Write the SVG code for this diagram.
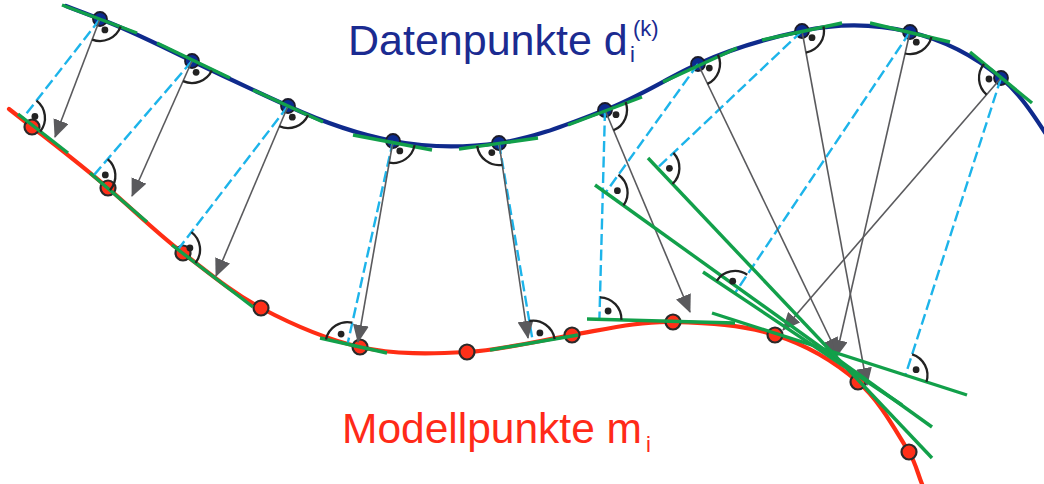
<svg xmlns="http://www.w3.org/2000/svg" width="1044" height="484" viewBox="0 0 1044 484">
<defs>
<style>
.bg{fill:#ffffff}
.blue{fill:none;stroke:#0f2a8c;stroke-width:4.2;stroke-linecap:round}
.red{fill:none;stroke:#ff2d14;stroke-width:4.2;stroke-linecap:round}
.tan{stroke:#12a04a;stroke-width:3.4;fill:none}
.arr{stroke:#5a5a5d;stroke-width:1.6;fill:none}
.dash{stroke:#1db4ea;stroke-width:2.4;stroke-dasharray:11 4.5;fill:none}
.ra{fill:none;stroke:#222222;stroke-width:2.3}
.dot{fill:#222222}
.dn{fill:#0c2b8f;stroke:#1b1b2a;stroke-width:1.8}
.mn{fill:#ff3019;stroke:#2a2a2a;stroke-width:2.2}
.tb{font-family:"Liberation Sans",Arial,sans-serif;fill:#1b2b91}
.tr{font-family:"Liberation Sans",Arial,sans-serif;fill:#ff2a18}
</style>
<marker id="ah" viewBox="0 0 18 16" refX="17" refY="8" markerWidth="18" markerHeight="16" markerUnits="userSpaceOnUse" orient="auto">
<path d="M0,0 L18,8 L0,16 z" fill="#5a5a5d"/>
</marker>
</defs>
<rect class="bg" x="0" y="0" width="1044" height="484"/>

<g id="curves">
<path id="data-curve" class="blue" d="M66,6 C77.3,10.2 88.7,14.8 100,19 C131.6,30.8 161.6,46.4 192,61 C223.8,76.3 255.9,91.3 288,106 C321.5,121.4 356.8,134.1 393,141 C427.7,147.6 464.1,147.9 499,143 C535.6,137.9 570.4,123.1 605,110 C637.4,97.8 666.5,78.5 698,64 C731.1,48.8 766.4,38.6 802,31 C837.2,23.5 875,23.7 910,32 C943.1,39.9 974.8,56.4 1001,78 C1019.5,93.2 1032.9,114 1046,134"/>
<path id="model-curve" class="red" d="M9,109 C16.7,115 24.3,121 32,127 C57.6,147 83.4,166.8 108,188 C133.1,209.6 156.7,232.9 183,253 C208.2,272.3 232.9,293.1 261,308 C292.3,324.6 325.4,339.2 360,347 C394.8,354.8 431.4,354 467,352 C502.4,350 537,341 572,335 C605.4,329.3 639.1,321.1 673,322 C707.3,322.9 742.3,324.5 775,335 C805.3,344.7 834.1,361.1 858,382 C879.8,401 893.7,427.5 909,452 C915.1,461.7 917.7,473.4 922,484 L924,490"/>
</g>

<g id="data-points">
<g id="d1"><circle class="dn" cx="100" cy="19" r="7"/></g>
<g id="d2"><circle class="dn" cx="192" cy="61" r="7"/></g>
<g id="d3"><circle class="dn" cx="288" cy="106" r="7"/></g>
<g id="d4"><circle class="dn" cx="393" cy="141" r="7"/></g>
<g id="d5"><circle class="dn" cx="499" cy="143" r="7"/></g>
<g id="d6"><circle class="dn" cx="605" cy="110" r="7"/></g>
<g id="d7"><circle class="dn" cx="698" cy="64" r="7"/></g>
<g id="d8"><circle class="dn" cx="802" cy="31" r="7"/></g>
<g id="d9"><circle class="dn" cx="910" cy="32" r="7"/></g>
<g id="d10"><circle class="dn" cx="1001" cy="78" r="7"/></g>
</g>

<g id="model-points">
<g id="m1"><circle class="mn" cx="32" cy="127" r="7.5"/></g>
<g id="m2"><circle class="mn" cx="108" cy="188" r="7.5"/></g>
<g id="m3"><circle class="mn" cx="183" cy="253" r="7.5"/></g>
<g id="m4"><circle class="mn" cx="261" cy="308" r="7.5"/></g>
<g id="m5"><circle class="mn" cx="360" cy="347" r="7.5"/></g>
<g id="m6"><circle class="mn" cx="467" cy="352" r="7.5"/></g>
<g id="m7"><circle class="mn" cx="572" cy="335" r="7.5"/></g>
<g id="m8"><circle class="mn" cx="673" cy="322" r="7.5"/></g>
<g id="m9"><circle class="mn" cx="775" cy="335" r="7.5"/></g>
<g id="m10"><circle class="mn" cx="858" cy="382" r="7.5"/></g>
<g id="m11"><circle class="mn" cx="909" cy="452" r="7.5"/></g>
</g>

<g id="connectors">
<g id="projections">
<line class="dash" x1="100" y1="19" x2="23" y2="118"/>
<line class="dash" x1="192" y1="61" x2="93.3" y2="175.8"/>
<line class="dash" x1="288" y1="106" x2="178" y2="249.6"/>
<line class="dash" x1="393" y1="141" x2="347.5" y2="344.2"/>
<line class="dash" x1="499" y1="143" x2="533" y2="342.7"/>
<line class="dash" x1="605" y1="110" x2="599.4" y2="319.3"/>
<line class="dash" x1="698" y1="64" x2="605.6" y2="192.6"/>
<line class="dash" x1="802" y1="31" x2="657.4" y2="168"/>
<line class="dash" x1="910" y1="32" x2="735" y2="293"/>
<line class="dash" x1="1001" y1="78" x2="905.4" y2="375.2"/>
</g>
<g id="normals">
<line class="arr" marker-end="url(#ah)" x1="100" y1="19" x2="55" y2="137"/>
<line class="arr" marker-end="url(#ah)" x1="192" y1="61" x2="132" y2="196"/>
<line class="arr" marker-end="url(#ah)" x1="288" y1="106" x2="216" y2="276"/>
<line class="arr" marker-end="url(#ah)" x1="393" y1="141" x2="358" y2="342"/>
<line class="arr" marker-end="url(#ah)" x1="499" y1="143" x2="528" y2="338"/>
<line class="arr" marker-end="url(#ah)" x1="605" y1="110" x2="690" y2="312"/>
<line class="arr" marker-end="url(#ah)" x1="698" y1="64" x2="838" y2="355"/>
<line class="arr" marker-end="url(#ah)" x1="802" y1="31" x2="867" y2="385"/>
<line class="arr" marker-end="url(#ah)" x1="910" y1="32" x2="836" y2="357"/>
<line class="arr" marker-end="url(#ah)" x1="1001" y1="78" x2="783" y2="330"/>
</g>
</g>

<g id="tangents">
<line class="tan" x1="62" y1="5" x2="137" y2="33"/>
<line class="tan" x1="157" y1="43" x2="230" y2="78"/>
<line class="tan" x1="253" y1="90" x2="323" y2="122"/>
<line class="tan" x1="353" y1="135" x2="432" y2="150"/>
<line class="tan" x1="459" y1="149" x2="538" y2="138"/>
<line class="tan" x1="568" y1="125" x2="642" y2="97"/>
<line class="tan" x1="663" y1="82" x2="737" y2="48"/>
<line class="tan" x1="762" y1="40" x2="842" y2="23"/>
<line class="tan" x1="870" y1="23" x2="950" y2="42"/>
<line class="tan" x1="970" y1="52" x2="1032" y2="103"/>
<line class="tan" x1="18" y1="114" x2="68" y2="153"/>
<line class="tan" x1="90" y1="173" x2="147" y2="222"/>
<line class="tan" x1="172" y1="245" x2="253" y2="307"/>
<line class="tan" x1="320" y1="338" x2="387" y2="353"/>
<line class="tan" x1="490" y1="350" x2="578" y2="335"/>
<line class="tan" x1="587" y1="319" x2="735" y2="323"/>
<line class="tan" x1="712" y1="313" x2="967" y2="395"/>
<line class="tan" x1="595" y1="185" x2="932" y2="427"/>
<line class="tan" x1="648" y1="158" x2="932" y2="458"/>
<line class="tan" x1="703" y1="272" x2="902" y2="405"/>
</g>

<g id="right-angles">
<path class="ra" d="M120.6,26.7 A22,22 0 0 1 92.2,39.6"/><circle class="dot" cx="104.9" cy="29.9" r="3.4"/>
<path class="ra" d="M211.8,70.5 A22,22 0 0 1 183.1,81.1"/><circle class="dot" cx="196.1" cy="72.3" r="3.4"/>
<path class="ra" d="M308,115.2 A22,22 0 0 1 279.4,126.3"/><circle class="dot" cx="292.3" cy="117.2" r="3.4"/>
<path class="ra" d="M414.6,145.1 A22,22 0 0 1 389.2,162.7"/><circle class="dot" cx="399.8" cy="150.9" r="3.4"/>
<path class="ra" d="M502.3,164.8 A22,22 0 0 1 477.2,146"/><circle class="dot" cx="491.8" cy="152.6" r="3.4"/>
<path class="ra" d="M625.6,102.2 A22,22 0 0 1 613.5,130.3"/><circle class="dot" cx="616" cy="114.7" r="3.4"/>
<path class="ra" d="M718,54.8 A22,22 0 0 1 707.4,83.9"/><circle class="dot" cx="709.3" cy="68.1" r="3.4"/>
<path class="ra" d="M823.5,26.4 A22,22 0 0 1 806,52.6"/><circle class="dot" cx="812" cy="37.7" r="3.4"/>
<path class="ra" d="M931.4,37.1 A22,22 0 0 1 905.1,53.5"/><circle class="dot" cx="916.3" cy="42.2" r="3.4"/>
<path class="ra" d="M986.6,94.6 A22,22 0 0 1 984,64"/><circle class="dot" cx="989" cy="79" r="3.4"/>
<path class="ra" d="M36.5,100.6 A22,22 0 0 1 40.3,131.5"/><circle class="dot" cx="34.9" cy="116.5" r="3.4"/>
<path class="ra" d="M107.7,159.1 A22,22 0 0 1 110,190.2"/><circle class="dot" cx="105.3" cy="174.9" r="3.4"/>
<path class="ra" d="M191.4,232.1 A22,22 0 0 1 195.5,263"/><circle class="dot" cx="189.9" cy="248" r="3.4"/>
<path class="ra" d="M326,339.4 A22,22 0 0 1 352.3,322.7"/><circle class="dot" cx="341.1" cy="334.1" r="3.4"/>
<path class="ra" d="M529.3,321 A22,22 0 0 1 554.7,339"/><circle class="dot" cx="539.9" cy="332.9" r="3.4"/>
<path class="ra" d="M600,297.3 A22,22 0 0 1 621.4,319.9"/><circle class="dot" cx="608.1" cy="311" r="3.4"/>
<path class="ra" d="M618.4,174.7 A22,22 0 0 1 623.5,205.4"/><circle class="dot" cx="617.4" cy="190.7" r="3.4"/>
<path class="ra" d="M673.4,152.9 A22,22 0 0 1 672.5,184"/><circle class="dot" cx="669.4" cy="168.3" r="3.4"/>
<path class="ra" d="M716.7,280.8 A22,22 0 0 1 747.2,274.7"/><circle class="dot" cx="732.7" cy="281.2" r="3.4"/>
<path class="ra" d="M912.1,354.3 A22,22 0 0 1 926.4,381.9"/><circle class="dot" cx="916.1" cy="369.7" r="3.4"/>
</g>

<g id="labels">
<text class="tb" x="348" y="55" font-size="43">Datenpunkte d</text>
<text class="tb" x="630" y="62" font-size="22">i</text>
<text class="tb" x="633" y="36" font-size="22">(k)</text>
<text class="tr" x="342" y="443" font-size="42.5">Modellpunkte m</text>
<text class="tr" x="646" y="452" font-size="22">i</text>
</g>
</svg>
